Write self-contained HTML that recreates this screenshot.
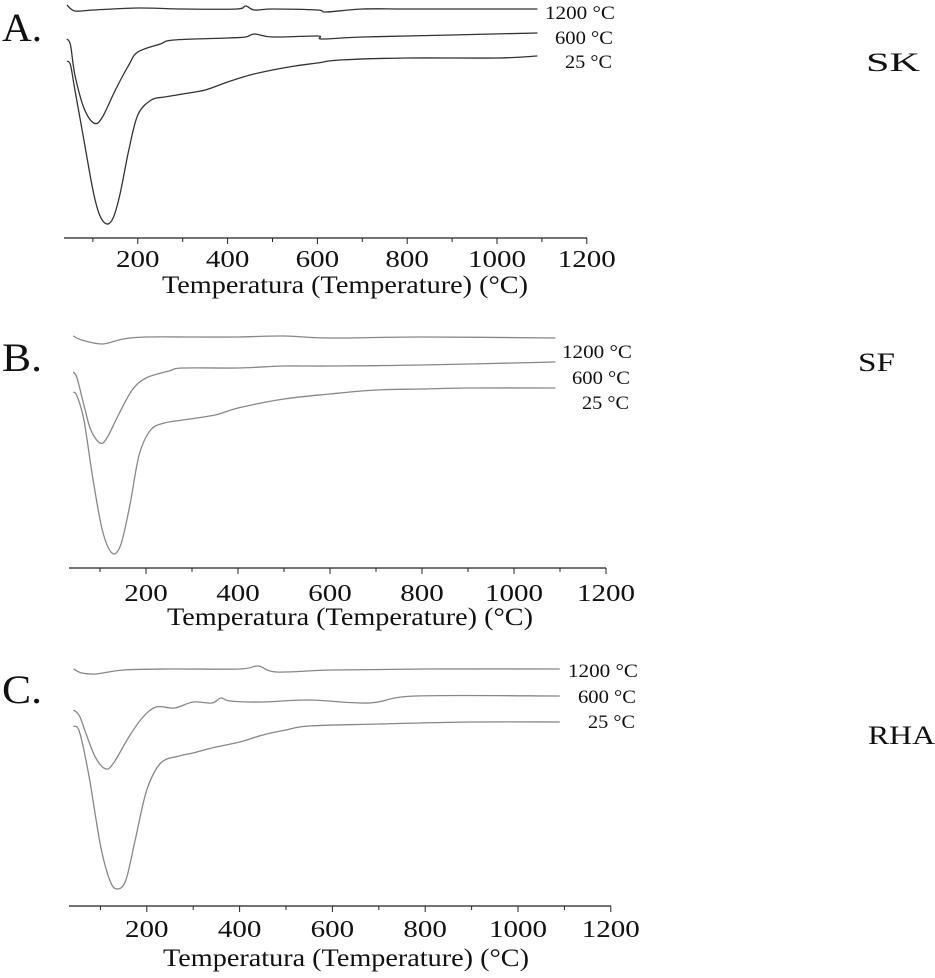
<!DOCTYPE html>
<html><head><meta charset="utf-8"><style>
body{margin:0;background:#fff;width:935px;height:973px;overflow:hidden}
svg text{font-family:"Liberation Serif",serif;fill:#111}
</style></head><body>
<svg id="c" width="935" height="973" xmlns="http://www.w3.org/2000/svg"></svg>
<script>
// Temperature tick labels
const tickLabels=[200,400,600,800,1000,1200];
const seriesNames=["1200 °C","600 °C","25 °C"];
const panelLetters=["A.","B.","C."];
const sampleNames=["SK","SF","RHA"];
// Panel A (SK) series: temperatures and heat-flow values (arb. units)
const aT1200=[42,60,100,200,300,420,440,460,500,600,620,700,800,1000,1090];
const aV1200=[-0.5,-1.1,-1.0,-0.8,-0.9,-0.9,-0.6,-1.0,-0.9,-1.0,-1.2,-0.9,-0.9,-0.9,-0.9];
const aT600=[42,50,60,80,102,120,150,180,200,250,280,400,440,460,500,600,610,700,900,1090];
const aV600=[-3.9,-4.5,-7.5,-10.8,-12.3,-11.8,-9.0,-6.5,-5.2,-4.4,-4.0,-3.8,-3.7,-3.4,-3.7,-3.6,-3.9,-3.7,-3.5,-3.3];
const aT25=[42,50,60,80,100,115,131,145,160,180,200,230,260,300,350,400,450,500,550,600,650,800,1000,1090];
const aV25=[-6.1,-6.5,-9.0,-14.0,-19.0,-21.5,-22.4,-21.8,-19.5,-15.0,-11.5,-10.0,-9.7,-9.4,-9.0,-8.2,-7.5,-7.0,-6.6,-6.3,-6.0,-5.8,-5.8,-5.6];
// Panel B (SF)
const bT1200=[42,60,105,150,200,300,400,500,600,800,1090];
const bV1200=[-1.6,-2.0,-2.4,-1.9,-1.7,-1.7,-1.7,-1.6,-1.8,-1.7,-1.8];
const bT600=[42,50,65,80,100,115,140,170,200,250,280,400,500,600,800,1090];
const bV600=[-5.2,-5.8,-8.5,-11.0,-12.3,-11.8,-9.5,-7.0,-5.8,-5.1,-4.8,-4.8,-4.6,-4.6,-4.5,-4.2];
const bT25=[42,50,65,85,105,126,145,165,185,210,240,280,350,400,500,600,700,800,900,1090];
const bV25=[-7.2,-7.6,-10.0,-16.0,-21.0,-23.3,-22.5,-18.5,-13.5,-11.0,-10.3,-10.0,-9.5,-8.8,-7.9,-7.4,-7.0,-6.9,-6.8,-6.8];
// Panel C (RHA)
const cT1200=[42,60,90,150,250,400,440,480,600,800,1090];
const cV1200=[-1.9,-2.3,-2.4,-2.0,-1.9,-1.9,-1.6,-2.2,-2.0,-1.9,-1.9];
const cT600=[42,55,70,90,112,130,160,190,220,260,300,340,360,380,450,550,680,780,1090];
const cV600=[-6.0,-6.6,-8.5,-10.8,-11.9,-11.2,-8.8,-6.8,-5.7,-5.8,-5.2,-5.3,-4.8,-5.1,-5.2,-5.0,-5.3,-4.6,-4.6];
const cT25=[42,55,75,100,120,136,155,175,200,230,270,300,340,400,450,500,550,700,900,1090];
const cV25=[-7.6,-8.2,-12.5,-19.5,-23.0,-23.9,-23.0,-19.0,-14.0,-11.3,-10.6,-10.3,-9.8,-9.2,-8.5,-8.0,-7.6,-7.4,-7.2,-7.2];

const panels=[
 {top:0,axisY:238,x0:48,k:0.449,axL:64,axR:587,col:"#333",labX:545,labY:[12,37,61],sx:866,sy:62,sw:54,ly:28,tickY:258,titleY:285,titleX:345,
  T:[aT1200,aT600,aT25],V:[aV1200,aV600,aV25]},
 {top:320,axisY:568,x0:54,k:0.46,axL:69,axR:606,col:"#888",labX:562,labY:[351,377,402],sx:858,sy:362,sw:37,ly:358,tickY:592,titleY:617,titleX:350,
  T:[bT1200,bT600,bT25],V:[bV1200,bV600,bV25]},
 {top:650,axisY:906,x0:54,k:0.464,axL:69,axR:611,col:"#888",labX:568,labY:[670,696,721],sx:868,sy:735,sw:67,ly:690,tickY:928,titleY:958,titleX:346,
  T:[cT1200,cT600,cT25],V:[cV1200,cV600,cV25]}
];
const NS="http://www.w3.org/2000/svg";
const svg=document.getElementById('c');
function mk(tag,attrs,parent){const e=document.createElementNS(NS,tag);for(const a in attrs)e.setAttribute(a,attrs[a]);(parent||svg).appendChild(e);return e;}
function pathFrom(pts){
 let d="M"+pts[0][0].toFixed(1)+","+pts[0][1].toFixed(1);
 for(let i=0;i<pts.length-1;i++){
  const p0=pts[Math.max(0,i-1)],p1=pts[i],p2=pts[i+1],p3=pts[Math.min(pts.length-1,i+2)];
  const c1=[p1[0]+(p2[0]-p0[0])/6,p1[1]+(p2[1]-p0[1])/6];
  const c2=[p2[0]-(p3[0]-p1[0])/6,p2[1]-(p3[1]-p1[1])/6];
  d+=" C"+c1[0].toFixed(1)+","+c1[1].toFixed(1)+" "+c2[0].toFixed(1)+","+c2[1].toFixed(1)+" "+p2[0].toFixed(1)+","+p2[1].toFixed(1);
 }
 return d;
}
panels.forEach((p,pi)=>{
 const g=mk('g',{});
 
 
 const xs=t=>p.x0+p.k*t;
 const ys=v=>p.top-v*10;
 const ax=mk('line',{x1:p.axL,x2:p.axR,y1:p.axisY,y2:p.axisY,stroke:"#222","stroke-width":1.3},g);
 
 
 for(let t=100;t<=1200;t+=100){
  const tk=mk('line',{x1:xs(t),x2:xs(t),y1:p.axisY,y2:p.axisY+(t%200===0?6:4),stroke:"#222","stroke-width":1},g);
  
  
 }
 tickLabels.forEach(t=>{
  const s=String(t);
  const tx=mk('text',{x:xs(t),y:p.tickY+9,"text-anchor":"middle","font-size":24,textLength:s.length*14.5,lengthAdjust:"spacingAndGlyphs"},g);
  tx.textContent=s;
  
  
 });
 const ti=mk('text',{x:p.titleX,y:p.titleY+8,"text-anchor":"middle","font-size":25,textLength:366,lengthAdjust:"spacingAndGlyphs"},g);
 ti.textContent="Temperatura (Temperature) (°C)";
 
 
 p.T.forEach((T,si)=>{
  const pts=T.map((t,i)=>[xs(t),ys(p.V[si][i])]);
  const ln=mk('path',{d:pathFrom(pts),fill:"none",stroke:p.col,"stroke-width":1.3},g);
  
  
  const lw=[70,58,47][si];
  const lb=mk('text',{x:p.labX+(si===0?0:(si===1?10:20)),y:p.labY[si]+7,"font-size":19,textLength:lw,lengthAdjust:"spacingAndGlyphs"},g);
  lb.textContent=seriesNames[si];
  
  
 });
 const le=mk('text',{x:2,y:p.ly+13,"font-size":40,textLength:40,lengthAdjust:"spacingAndGlyphs"},g);
 le.textContent=panelLetters[pi];
 
 
 const sn=mk('text',{x:p.sx,y:p.sy+9,"font-size":26,textLength:p.sw,lengthAdjust:"spacingAndGlyphs"},g);
 sn.textContent=sampleNames[pi];
 
 
});
</script>
</body></html>
